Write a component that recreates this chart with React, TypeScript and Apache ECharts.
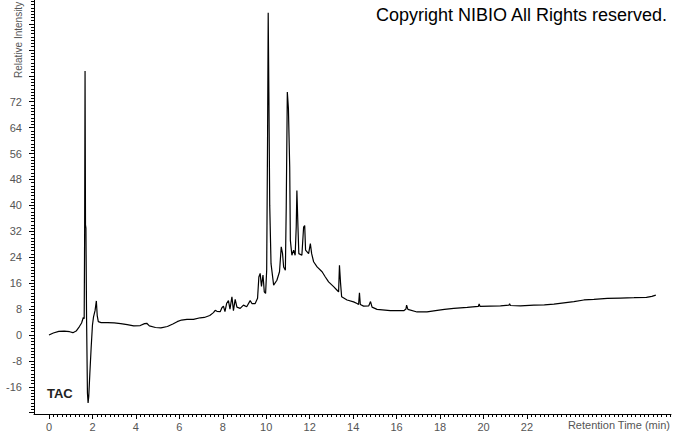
import React, { useEffect, useRef } from "react";
import * as echarts from "echarts";

// Retention time (min)
const times = [
  0.0, 0.2, 0.45, 0.7, 0.95, 1.1, 1.25, 1.4, 1.5, 1.58, 1.62, 1.64, 1.66, 1.68, 1.7, 1.73, 1.77, 1.8, 1.83, 1.88, 1.94,
  2.0, 2.05, 2.12, 2.18, 2.22, 2.27, 2.4, 2.7, 3.0, 3.3, 3.6, 3.9, 4.2, 4.4, 4.5, 4.62, 4.9, 5.15, 5.45, 5.7, 5.9,
  6.1, 6.35, 6.65, 6.96, 7.15, 7.4, 7.57, 7.65, 7.73, 7.88, 7.96, 8.03, 8.1, 8.18, 8.26, 8.33, 8.42, 8.49, 8.57,
  8.65, 8.8, 8.95, 9.1, 9.26, 9.34, 9.49, 9.6, 9.66, 9.72, 9.78, 9.85, 9.91, 9.97, 10.02, 10.06, 10.09, 10.12,
  10.16, 10.22, 10.34, 10.49, 10.61, 10.69, 10.75, 10.8, 10.88, 10.92, 10.97, 11.02, 11.08, 11.11, 11.18, 11.26,
  11.33, 11.38, 11.41, 11.46, 11.5, 11.64, 11.72, 11.77, 11.81, 11.95, 12.03, 12.09, 12.18, 12.34, 12.57, 12.72,
  12.87, 13.1, 13.26, 13.33, 13.37, 13.42, 13.47, 13.72, 14.02, 14.18, 14.25, 14.29, 14.33, 14.48, 14.72, 14.8,
  14.87, 15.1, 15.71, 16.33, 16.43, 16.46, 16.52, 16.94, 17.4, 17.87, 18.2, 18.63, 19.25, 19.76, 19.8, 19.84,
  20.3, 20.78, 21.17, 21.2, 21.24, 21.7, 22.32, 22.8, 23.24, 23.7, 24.16, 24.62, 25.08, 25.7, 26.3, 26.93, 27.5,
  27.75, 27.93,
];

// Relative intensity
const intensity = [
  0.0, 0.6, 1.1, 1.2, 1.0, 0.7, 1.2, 2.6, 3.7, 5.4, 5.0, 30, 81.5, 34, 33, 5, -18, -21, -19, -12, -4,
  3, 5.6, 7.5, 10.5, 6, 4.1, 3.8, 3.8, 3.7, 3.5, 3.2, 2.8, 2.9, 3.5, 3.6, 2.8, 2.3, 2.2, 2.6, 3.4, 4.1,
  4.6, 4.8, 4.8, 5.3, 5.4, 6.0, 6.9, 7.6, 7.3, 7.2, 8.4, 8.9, 7.2, 9.8, 10.6, 8.0, 11.8, 7.5, 11.0,
  8.6, 8.2, 9.2, 8.7, 10.6, 9.7, 9.7, 11.3, 17.9, 19.0, 15.0, 18.5, 13.3, 12.8, 20, 60, 99.5, 75,
  40, 22, 15.4, 16.9, 19.5, 27.2, 25.1, 21, 20, 39.5, 75, 70, 51.8, 29.2, 24.6, 26.2,
  24.6, 33.3, 44.6, 33.3, 25.1, 24.6, 33.3, 33.8, 26.2, 25.1, 28.2, 25.1, 22.6, 21, 19.5, 17.9,
  16.4, 14.9, 13.8, 13.3, 21.5, 16, 11.8, 10.8, 10.2, 9.7, 9.4, 13.0, 9.4, 8.9, 9.0, 10.3,
  8.6, 7.9, 7.5, 7.5, 8.0, 9.2, 7.9, 7.1, 7.1, 7.6, 7.9, 8.2, 8.5, 8.8, 9.6, 8.8,
  8.9, 9.0, 9.2, 9.6, 9.1, 9.0, 9.2, 9.3, 9.5, 9.9, 10.3, 10.8, 11.0, 11.3, 11.4, 11.5, 11.6,
  11.9, 12.3,
];

// Tick labels
const xLabelValues = [0, 2, 4, 6, 8, 10, 12, 14, 16, 18, 20, 22];
const yLabelValues = [-16, -8, 0, 8, 16, 24, 32, 40, 48, 56, 64, 72];
const yMajorTicks = [-24, -16, -8, 0, 8, 16, 24, 32, 40, 48, 56, 64, 72, 80, 88, 96];

const X_MIN = -0.69;
const X_MAX = 28.63;
const Y_MIN = -24.4;
const Y_MAX = 103.4;

const xMinorTicks: number[] = [];
for (let i = 0; i <= 143; i++) xMinorTicks.push(Math.round(i * 2) / 10);
const yMinorTicks: number[] = [];
for (let v = -24; v <= 103; v++) yMinorTicks.push(v);

const FONT = "'Liberation Sans', Arial, sans-serif";
const LABEL_COLOR = "#555";

export default function App() {
  const ref = useRef<HTMLDivElement>(null);
  useEffect(() => {
    if (!ref.current) return;
    const chart = echarts.init(ref.current, undefined, { renderer: "svg" });
    const data = times.map((t, i) => [t, intensity[i]]);
    chart.setOption({
      animation: false,
      backgroundColor: "#fff",
      grid: { left: 34, right: 2, top: 0, bottom: 19, containLabel: false },
      xAxis: [
        {
          type: "value",
          min: X_MIN,
          max: X_MAX,
          position: "bottom",
          axisLine: { show: true, onZero: false, lineStyle: { color: "#000", width: 1 } },
          axisTick: { show: true, length: 5, customValues: xLabelValues, lineStyle: { color: "#000" } },
          axisLabel: { show: true, customValues: xLabelValues, margin: 7, fontSize: 11, color: LABEL_COLOR, fontFamily: FONT },
          splitLine: { show: false },
        },
        {
          type: "value",
          min: X_MIN,
          max: X_MAX,
          position: "bottom",
          offset: 0,
          axisLine: { show: false, onZero: false },
          axisTick: { show: true, length: 3, customValues: xMinorTicks, lineStyle: { color: "#000" } },
          axisLabel: { show: false },
          splitLine: { show: false },
        },
      ],
      yAxis: [
        {
          type: "value",
          min: Y_MIN,
          max: Y_MAX,
          position: "left",
          axisLine: { show: true, onZero: false, lineStyle: { color: "#000", width: 1 } },
          axisTick: { show: true, length: 5, customValues: yMajorTicks, lineStyle: { color: "#000" } },
          axisLabel: { show: true, customValues: yLabelValues, margin: 12, fontSize: 11, color: LABEL_COLOR, fontFamily: FONT },
          splitLine: { show: false },
        },
        {
          type: "value",
          min: Y_MIN,
          max: Y_MAX,
          position: "left",
          offset: 0,
          axisLine: { show: false, onZero: false },
          axisTick: { show: true, length: 3, customValues: yMinorTicks, lineStyle: { color: "#000" } },
          axisLabel: { show: false },
          splitLine: { show: false },
        },
      ],
      series: [
        {
          type: "line",
          xAxisIndex: 0,
          yAxisIndex: 0,
          data,
          showSymbol: false,
          symbol: "none",
          lineStyle: { color: "#000", width: 1.2 },
          silent: true,
        },
      ],
      graphic: [
        {
          type: "text",
          x: 376,
          y: 15,
          style: {
            text: "Copyright NIBIO All Rights reserved.",
            font: `18px ${FONT}`,
            fill: "#000",
            verticalAlign: "middle",
            align: "left",
          },
        },
        {
          type: "text",
          x: 47,
          y: 393,
          style: {
            text: "TAC",
            font: `bold 13px ${FONT}`,
            fill: "#222",
            verticalAlign: "middle",
            align: "left",
          },
        },
        {
          type: "text",
          x: 18,
          y: 78,
          rotation: Math.PI / 2,
          style: {
            text: "Relative Intensity",
            font: `10px ${FONT}`,
            fill: LABEL_COLOR,
            verticalAlign: "middle",
            align: "left",
          },
        },
        {
          type: "text",
          x: 670,
          y: 425,
          style: {
            text: "Retention Time (min)",
            font: `11px ${FONT}`,
            fill: LABEL_COLOR,
            verticalAlign: "middle",
            align: "right",
          },
        },
      ],
    });
    return () => chart.dispose();
  }, []);
  return <div ref={ref} style={{ width: 673, height: 433, position: "fixed", left: 0, top: 0 }} />;
}
